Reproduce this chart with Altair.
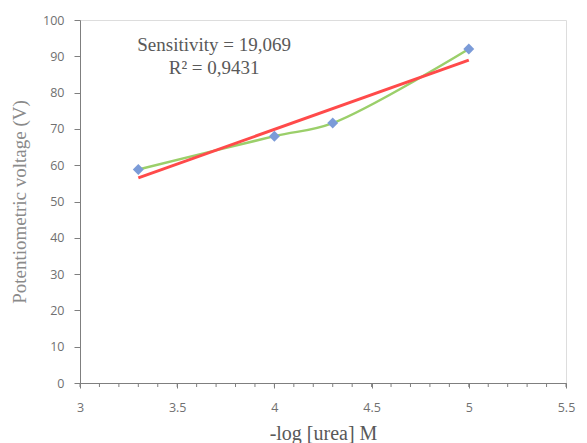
import altair as alt
import pandas as pd

# data
log_urea = [3.3, 4.0, 4.3, 5.0]
voltage = [58.8, 68.0, 71.6, 92.0]
slope = 19.069
intercept = -6.42
fit_x = [3.3, 5.0]
minor_ticks = [round(3 + 0.1 * i, 1) for i in range(26)]
major_ticks = [3, 3.5, 4, 4.5, 5, 5.5]
y_ticks = [0, 10, 20, 30, 40, 50, 60, 70, 80, 90, 100]
ann_text = ["Sensitivity = 19,069", "R\u00b2 = 0,9431"]
ann_x = [3.69, 3.69]
ann_y = [93.1, 86.8]

df = pd.DataFrame({"x": log_urea, "y": voltage})
fit = pd.DataFrame({"x": fit_x, "y": [slope * v + intercept for v in fit_x]})
ann = pd.DataFrame({"t": ann_text, "x": ann_x, "y": ann_y})
minor = pd.DataFrame({"x": minor_ticks})

GRAY = "#595959"
LBL = "#707070"
AX = "#7f7f7f"
W = 486
H = 363
xs = alt.Scale(domain=[3, 5.5], nice=False, zero=False)
ys = alt.Scale(domain=[0, 100], nice=False, zero=True)

x_axis = alt.Axis(values=major_ticks, format=".1~f", tickSize=5, grid=False,
                  domainColor=AX, tickColor=AX, labelFlush=False,
                  labelColor=LBL, labelFont="Open Sans", labelFontSize=12.5,
                  labelPadding=13,
                  titleColor=GRAY, titleFont="Liberation Serif", titleFontSize=20,
                  titleFontWeight="normal", titlePadding=10)
y_axis = alt.Axis(values=y_ticks, tickCount=11, tickSize=6, grid=False,
                  domainColor=AX, tickColor=AX, labelFlush=False,
                  labelColor=LBL, labelFont="Open Sans", labelFontSize=12.5,
                  labelPadding=10, labelOverlap=False,
                  titleColor="#8a8a8a", titleFont="Liberation Serif", titleFontSize=19,
                  titleFontWeight="normal", titlePadding=13)


def X():
    return alt.X("x:Q", scale=xs, title="-log [urea] M", axis=x_axis)


def Y():
    return alt.Y("y:Q", scale=ys, title="Potentiometric voltage (V)", axis=y_axis)


smooth = alt.Chart(df).mark_line(interpolate="catmull-rom", color="#9bcf6a", strokeWidth=2.5).encode(
    x=X(), y=Y())
pts = alt.Chart(df).mark_point(shape="diamond", filled=True, color="#7b9bd8", size=120, opacity=1).encode(
    x=X(), y=Y())
trend = alt.Chart(fit).mark_line(color="#ff4a4a", strokeWidth=3).encode(x=X(), y=Y())
text = alt.Chart(ann).mark_text(font="Liberation Serif", fontSize=19, color=GRAY, align="center").encode(
    x=X(), y=Y(), text="t:N")
minor_axis = alt.Chart(minor).mark_rule(color=AX, strokeWidth=1).encode(
    x=X(), y=alt.value(H), y2=alt.value(H + 4))

chart = alt.layer(smooth, trend, pts, minor_axis, text).properties(
    width=W, height=H,
    autosize=alt.AutoSizeParams(type="none"),
    padding={"left": 72, "top": 12, "right": 13, "bottom": 60},
).configure_view(stroke=None).configure(background="white")

chart.save("out.html", embed_options={"renderer": "svg", "actions": False})
